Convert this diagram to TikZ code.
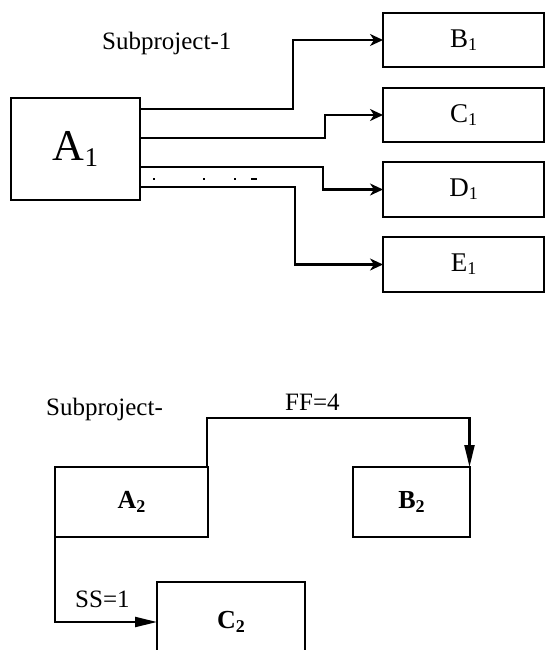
\documentclass[tikz,border=0pt]{standalone}
\usepackage{fontspec}
\setmainfont{Liberation Serif}
\usetikzlibrary{arrows.meta,calc}
% lowered subscript: shift, size, text
\newcommand\lowsub[3]{\raisebox{#1}{\fontsize{#2}{#2}\selectfont #3}}
\begin{document}
\begin{tikzpicture}[x=1pt,y=-1pt,
  box/.style={draw,line width=2.2pt,inner sep=0pt,outer sep=0pt,
    font=\fontsize{27}{32}\selectfont},
  taskbox/.style={box,minimum width=161pt,minimum height=54pt},
  conn/.style={line width=2.2pt,-{Stealth[length=13pt,width=12pt,inset=4pt]}},
  link/.style={line width=2.2pt,-{Triangle[length=22pt,width=10pt]}},
  note/.style={inner sep=0pt,anchor=base west,font=\fontsize{25}{30}\selectfont},
  tick/.style={line width=1.5pt},
  boldbox/.style={box,font=\fontsize{26}{30}\selectfont\bfseries}]
\useasboundingbox (0,0) rectangle (546,650);
\clip (0,0) rectangle (546,650);

% ---- Subproject 1 ----
\node[note] (t1) at (102,50) {Subproject-1};
\node[box,minimum width=129pt,minimum height=102pt,font=\fontsize{44}{50}\selectfont]
  (A1) at (75.5,149) {A\lowsub{-6pt}{27}{1}};
\node[taskbox] (B1) at (463.5,40)    {B\lowsub{-3pt}{18}{1}};
\node[taskbox] (C1) at (463.5,115)   {C\lowsub{-3pt}{18}{1}};
\node[taskbox,minimum height=55pt] (D1) at (463.5,189.5) {D\lowsub{-3pt}{18}{1}};
\node[taskbox,minimum height=55pt] (E1) at (463.5,264.5) {E\lowsub{-3pt}{18}{1}};

\draw[conn] ($(A1.north east)+(1,11)$) -| ($(B1.west)+(-90,0)$) -- (B1.west);
\draw[conn] ($(A1.north east)+(1,40)$) -| ($(C1.west)+(-58,0)$) -- (C1.west);
\draw[conn] ($(A1.north east)+(1,69)$) -| ($(D1.west)+(-60,0)$) -- (D1.west);
\draw[conn] ($(A1.north east)+(1,89)$) -| ($(E1.west)+(-88,0)$) -- (E1.west);

% stray marks between the exits
\draw[tick] ($(A1.north east)+(13,81)$) -- ++(2,0);
\draw[tick] ($(A1.north east)+(63,81)$) -- ++(2,0);
\draw[tick] ($(A1.north east)+(94,81)$) -- ++(2,0);
\draw[tick] ($(A1.north east)+(111,81)$) -- ++(6,0);

% ---- Subproject 2 ----
\node[note] (t2) at (46,415) {Subproject-};
\node[boldbox,minimum width=153pt,minimum height=70pt]
  (A2) at (131.5,502) {A\lowsub{-4pt}{18}{2}};
\node[boldbox,minimum width=117pt,minimum height=70pt]
  (B2) at (411.5,502) {B\lowsub{-4pt}{18}{2}};
\node[boldbox,minimum width=148pt,minimum height=80pt]
  (C2) at (231,622) {C\lowsub{-4pt}{18}{2}};

\coordinate (ffA) at ($(A2.north east)+(-1,0)$);
\coordinate (ffB) at ($(B2.north east)+(-0.5,0)$);
\draw[link] (ffA) -- ++(0,-49) -| (ffB);
\node[note] (ff) at (285,410) {FF=4};

\draw[link] (A2.south west) |- (C2.west);
\node[note] (ss) at (75,607) {SS=1};
\end{tikzpicture}
\end{document}
